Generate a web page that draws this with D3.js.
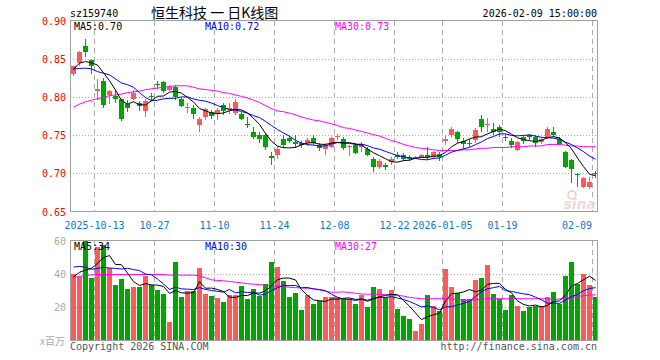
<!DOCTYPE html>
<html><head><meta charset="utf-8">
<script src="https://cdn.jsdelivr.net/npm/d3@7/dist/d3.min.js"></script>
<style>body{margin:0;background:#fff}svg{display:block}</style>
</head><body>
<script>
const dates = ["2025-09-29","2025-09-30","2025-10-09","2025-10-10","2025-10-13","2025-10-14","2025-10-15","2025-10-16","2025-10-17","2025-10-20","2025-10-21","2025-10-22","2025-10-23","2025-10-24","2025-10-27","2025-10-28","2025-10-29","2025-10-30","2025-10-31","2025-11-03","2025-11-04","2025-11-05","2025-11-06","2025-11-07","2025-11-10","2025-11-11","2025-11-12","2025-11-13","2025-11-14","2025-11-17","2025-11-18","2025-11-19","2025-11-20","2025-11-21","2025-11-24","2025-11-25","2025-11-26","2025-11-27","2025-11-28","2025-12-01","2025-12-02","2025-12-03","2025-12-04","2025-12-05","2025-12-08","2025-12-09","2025-12-10","2025-12-11","2025-12-12","2025-12-15","2025-12-16","2025-12-17","2025-12-18","2025-12-19","2025-12-22","2025-12-23","2025-12-24","2025-12-25","2025-12-26","2025-12-29","2025-12-30","2025-12-31","2026-01-05","2026-01-06","2026-01-07","2026-01-08","2026-01-09","2026-01-12","2026-01-13","2026-01-14","2026-01-15","2026-01-16","2026-01-19","2026-01-20","2026-01-21","2026-01-22","2026-01-23","2026-01-26","2026-01-27","2026-01-28","2026-01-29","2026-01-30","2026-02-02","2026-02-03","2026-02-04","2026-02-05","2026-02-06","2026-02-09"];

const open = [0.8307,0.8447,0.8675,0.8491,0.8075,0.8215,0.8031,0.8018,0.7974,0.7908,
0.7982,0.7925,0.7825,0.8022,0.8175,0.8202,0.8096,0.814,0.7978,0.7864,
0.7864,0.764,0.7746,0.7811,0.7789,0.7895,0.7833,0.7789,0.7781,0.7654,
0.7544,0.7504,0.75,0.7228,0.7241,0.7452,0.7461,0.7417,0.7395,0.7395,
0.7461,0.7373,0.7316,0.7351,0.7474,0.7452,0.7342,0.7373,0.7342,0.7325,
0.7184,0.7079,0.7105,0.7149,0.7241,0.7237,0.721,0.7202,0.721,0.7241,
0.721,0.7254,0.7421,0.75,0.7544,0.7425,0.7404,0.7439,0.771,0.7632,
0.7588,0.7605,0.7482,0.7421,0.7307,0.7474,0.75,0.7474,0.7412,0.7474,
0.7544,0.7456,0.7281,0.7175,0.6991,0.6825,0.6816,0.7009];
const high = [0.8412,0.860,0.8768,0.8504,0.8241,0.825,0.8088,0.8096,0.7982,0.7965,
0.8088,0.7956,0.7974,0.8061,0.8211,0.8211,0.8158,0.8158,0.80,0.7921,
0.7899,0.7746,0.786,0.7833,0.7855,0.793,0.7921,0.7974,0.7811,0.7737,
0.7614,0.7544,0.7526,0.7281,0.736,0.75,0.7491,0.75,0.743,0.7461,
0.75,0.7404,0.7395,0.7482,0.7522,0.7474,0.7373,0.7404,0.7417,0.7351,
0.7211,0.7184,0.714,0.7219,0.7281,0.7263,0.7241,0.7228,0.7254,0.7351,
0.7298,0.7285,0.75,0.7614,0.7553,0.7461,0.7447,0.7592,0.7763,0.7724,
0.7658,0.7632,0.7518,0.7461,0.743,0.75,0.7518,0.75,0.7474,0.7605,
0.7614,0.7482,0.729,0.7184,0.7009,0.6956,0.6947,0.7035];
const low = [0.8272,0.8412,0.8526,0.8307,0.7965,0.7855,0.7908,0.7921,0.7693,0.7811,
0.7965,0.7816,0.7746,0.7956,0.8114,0.8061,0.8079,0.7965,0.7868,0.7798,
0.7715,0.7548,0.7702,0.7711,0.7702,0.7768,0.7781,0.7768,0.7702,0.7592,
0.7447,0.7404,0.7307,0.711,0.7184,0.7329,0.7395,0.7333,0.7329,0.736,
0.7368,0.7298,0.7241,0.7329,0.7439,0.7307,0.7228,0.7254,0.7285,0.7228,
0.7022,0.7053,0.7044,0.7114,0.7184,0.7167,0.7167,0.7184,0.7202,0.7175,
0.7184,0.7167,0.7377,0.7482,0.7404,0.7316,0.7342,0.7395,0.7548,0.7548,
0.7504,0.7482,0.743,0.7329,0.7298,0.7386,0.7439,0.7351,0.7386,0.7447,
0.7474,0.7373,0.7066,0.6868,0.6825,0.6803,0.6798,0.6934];
const close = [0.8412,0.8588,0.8596,0.8404,0.811,0.7899,0.8075,0.7982,0.7719,0.7864,
0.8061,0.7886,0.7956,0.80,0.8158,0.8079,0.814,0.80,0.789,0.7877,
0.7781,0.7711,0.7842,0.7754,0.7833,0.7825,0.7855,0.7939,0.7715,0.7636,
0.7474,0.7447,0.7351,0.7202,0.7316,0.7373,0.743,0.7386,0.7368,0.7439,
0.7395,0.7329,0.7368,0.7461,0.7491,0.7338,0.736,0.7272,0.7386,0.7246,
0.7088,0.7167,0.7079,0.7184,0.7219,0.7193,0.7193,0.721,0.7241,0.721,
0.7281,0.721,0.7447,0.7588,0.7456,0.7386,0.7386,0.757,0.7605,0.7649,
0.7544,0.7544,0.7461,0.7373,0.7412,0.743,0.7474,0.7404,0.7447,0.7588,
0.75,0.7386,0.7088,0.7061,0.6974,0.6939,0.6886,0.6991];
const volume = [40,38,60.2,37.8,56.5,57.7,43.9,33.3,37.2,31.1,
32.1,32.1,39.0,33.3,30.5,28.3,11.0,47.6,26.2,29.7,
29.7,43.9,28.1,26.6,25.6,23.2,27.2,27.2,32.7,25.2,
31.1,26.6,34.0,47.6,44.3,35.8,26.2,28.7,18.3,27.2,
21.8,24.0,26.2,26.2,26.2,24.8,24.8,21.8,27.2,19.9,
32.1,30.9,26.0,30.3,18.7,15.0,13.2,5.9,10.2,27.2,
21.1,17.5,43.3,32.1,28.7,24.8,24.8,36.4,37.6,45.5,
27.9,25.0,18.1,27.2,21.1,17.5,20.1,21.1,21.1,26.0,
29.1,22.2,39.0,47.6,34.2,40.0,33.3,26.0];

// moving-average values before enough history is on the chart
const ma5Lead = [0.8368,0.8447,0.8468,0.8451];
const ma10Lead = [0.8368,0.8378,0.8381,0.8372,0.8336,0.8315,0.8293,0.8240,0.8187];
const ma30 = [0.787,0.791,0.794,0.796,0.798,0.800,0.802,0.803,0.804,0.806,
0.807,0.808,0.810,0.811,0.812,0.813,0.814,0.815,0.815,0.815,
0.813,0.811,0.810,0.809,0.808,0.806,0.805,0.803,0.801,0.799,
0.796,0.793,0.789,0.785,0.782,0.781,0.779,0.777,0.774,0.772,
0.770,0.769,0.767,0.765,0.763,0.760,0.759,0.757,0.755,0.753,
0.751,0.749,0.746,0.743,0.741,0.738,0.736,0.734,0.733,0.732,
0.731,0.730,0.730,0.730,0.730,0.731,0.731,0.732,0.733,0.733,
0.734,0.734,0.734,0.735,0.735,0.735,0.736,0.736,0.736,0.738,
0.738,0.738,0.737,0.736,0.736,0.735,0.735,0.735];
const volMa5Lead = [38.4,41.1,42.5,43.5];
const volMa10Lead = [44.3,44.7,44.1,42.9,43.5,44.1,43.7,43.5,43.1];
const volMa30 = [38.2,38.6,39.2,39.6,39.8,39.8,39.8,39.8,39.8,39.8,
39.8,39.8,39.8,39.8,39.8,39.8,39.4,39.4,39.4,39.4,
39.4,39.0,37.8,36.6,36.2,36.0,35.6,35.2,34.8,34.2,
34.0,33.7,33.3,33.1,32.9,32.5,32.1,31.9,31.7,31.5,
31.3,30.5,29.7,29.1,29.1,29.3,28.9,28.5,28.1,27.9,
27.9,27.9,27.6,27.4,27.2,26.8,26.0,25.6,25.2,25.2,
25.2,25.2,25.2,25.2,24.6,24.2,24.2,24.6,25.0,25.2,
25.2,25.2,25.2,25.2,25.2,25.2,25.2,25.2,25.2,25.2,
24.8,25.0,25.2,25.6,26.6,27.0,27.4,27.6];

const tickDates = ["2025-10-13","2025-10-27","2025-11-10","2025-11-24","2025-12-08","2025-12-22","2026-01-05","2026-01-19","2026-02-09"];
const tickLabels = ["2025-10-13","10-27","11-10","11-24","12-08","12-22","2026-01-05","01-19","02-09"];
const priceTicks = [0.90,0.85,0.80,0.75,0.70,0.65];
const priceTickLabels = ["0.90","0.85","0.80","0.75","0.70","0.65"];
const volTicks = [60,40,20];

const RED = "#ff5a5a", GREEN = "#00a600";
const MONO = "'DejaVu Sans Mono', monospace";
const CJK = "'Noto Sans CJK SC', sans-serif";

function movingAvg(arr, n, lead) {
  return arr.map((v, i) => i < n - 1 ? lead[i] : d3.mean(arr.slice(i - n + 1, i + 1)));
}
const ma5 = movingAvg(close, 5, ma5Lead);
const ma10 = movingAvg(close, 10, ma10Lead);
const vma5 = movingAvg(volume, 5, volMa5Lead);
const vma10 = movingAvg(volume, 10, volMa10Lead);

const W = 660, H = 360;
const L = 70, R = 598;
const pTop = 21, pBot = 211.5, vTop = 240.5, vBot = 340.5;

const svg = d3.select("body").append("svg").attr("width", W).attr("height", H);
const x = d3.scaleBand().domain(dates).range([L, R]);
const y = d3.scaleLinear().domain([0.65, 0.90]).range([pBot, pTop]);
const yv = d3.scaleLinear().domain([0, 60]).range([vBot, vTop + 0.5]);
const cx = i => x(dates[i]) + 3.5;

// header
svg.append("text").attr("x", 70).attr("y", 17).attr("font-family", MONO).attr("font-size", 10).attr("fill", "#000").text("sz159740");
svg.append("text").attr("x", 151).attr("y", 18).attr("font-family", CJK).attr("font-size", 14).attr("fill", "#000").text("恒生科技 一 日K线图");
svg.append("text").attr("x", 597).attr("y", 17).attr("text-anchor", "end").attr("font-family", MONO).attr("font-size", 10).attr("fill", "#000").text("2026-02-09 15:00:00");

function panel(top, bot, hTicks, yScale) {
  const g = svg.append("g").attr("shape-rendering", "crispEdges");
  g.selectAll("line.h").data(hTicks).join("line")
    .attr("x1", L).attr("x2", R).attr("y1", d => Math.round(yScale(d)) + 0.5).attr("y2", d => Math.round(yScale(d)) + 0.5)
    .attr("stroke", "#a8a8a8").attr("stroke-dasharray", "1,2");
  g.selectAll("line.v").data(tickDates).join("line")
    .attr("x1", d => x(d) + 0.5).attr("x2", d => x(d) + 0.5).attr("y1", top).attr("y2", bot)
    .attr("stroke", "#aaa").attr("stroke-dasharray", "5,4");
  return g;
}
panel(pTop, pBot, [0.85, 0.80, 0.75, 0.70], y);
panel(vTop, vBot, [40, 20], yv);

// price labels
svg.selectAll("text.pl").data(priceTicks).join("text")
  .attr("x", 66).attr("y", d => y(d) + 4).attr("text-anchor", "end")
  .attr("font-family", MONO).attr("font-size", 10).attr("fill", "#ff0000")
  .text((d, i) => priceTickLabels[i]);
svg.selectAll("text.vl").data(volTicks).join("text")
  .attr("x", 66).attr("y", d => yv(d) + 4).attr("text-anchor", "end")
  .attr("font-family", MONO).attr("font-size", 10).attr("fill", "#aaa")
  .text(d => d);
svg.append("text").attr("x", 65).attr("y", 345).attr("text-anchor", "end").attr("font-family", CJK).attr("font-size", 10).attr("fill", "#aaa").text("x百万");

// date labels
svg.selectAll("text.dl").data(tickDates).join("text")
  .attr("x", (d, i) => i === tickDates.length - 1 ? x(d) : x(d) + 0.5)
  .attr("y", 229)
  .attr("text-anchor", (d, i) => i === tickDates.length - 1 ? "end" : "middle")
  .attr("font-family", MONO).attr("font-size", 10).attr("fill", "#0a78d2")
  .text((d, i) => tickLabels[i]);

// watermark
svg.append("text").attr("x", 596).attr("y", 209).attr("text-anchor", "end")
  .attr("font-family", "'DejaVu Sans', sans-serif").attr("font-weight", "bold").attr("font-style", "italic")
  .attr("font-size", 14).attr("fill", "#eadcdc").text("sina");
svg.append("circle").attr("cx", 572).attr("cy", 195).attr("r", 4).attr("fill", "none").attr("stroke", "#f0c8c8").attr("stroke-width", 1.5);

// candles
const idx = d3.range(dates.length);
const cg = svg.append("g").attr("shape-rendering", "crispEdges");
const col = i => close[i] >= open[i] ? RED : GREEN;
cg.selectAll("line.w").data(idx).join("line")
  .attr("x1", i => cx(i)).attr("x2", i => cx(i))
  .attr("y1", i => y(high[i])).attr("y2", i => y(low[i]))
  .attr("stroke", col);
cg.selectAll("rect.b").data(idx).join("rect")
  .attr("x", i => x(dates[i]) + 1).attr("width", 5)
  .attr("y", i => y(Math.max(open[i], close[i])))
  .attr("height", i => Math.max(1, Math.abs(y(open[i]) - y(close[i]))))
  .attr("fill", col);

// volume bars
cg.selectAll("rect.v").data(idx).join("rect")
  .attr("x", i => x(dates[i]) + 1).attr("width", 5)
  .attr("y", i => yv(volume[i])).attr("height", i => vBot - yv(volume[i]))
  .attr("fill", col);

// MA lines
function drawLine(vals, scale, color) {
  svg.append("path").datum(vals)
    .attr("d", d3.line().x((d, i) => cx(i)).y(d => scale(d)))
    .attr("fill", "none").attr("stroke", color).attr("stroke-width", 1);
}
drawLine(ma30, y, "#ff00ff");
drawLine(ma10, y, "#0000ff");
drawLine(ma5, y, "#000");
drawLine(volMa30, yv, "#ff00ff");
drawLine(vma10, yv, "#0000ff");
drawLine(vma5, yv, "#000");

// frames
const fg = svg.append("g").attr("shape-rendering", "crispEdges").attr("fill", "none").attr("stroke", "#a0a0a0");
fg.append("rect").attr("x", L + 0.5).attr("y", pTop - 0.5).attr("width", R - L - 1).attr("height", pBot - pTop + 0.5);
fg.append("rect").attr("x", L + 0.5).attr("y", vTop).attr("width", R - L - 1).attr("height", vBot - vTop);

// MA legends
const legend = (xp, yp, t, c) => svg.append("text").attr("x", xp).attr("y", yp).attr("font-family", MONO).attr("font-size", 10).attr("fill", c).text(t);
legend(74, 30, "MA5:0.70", "#000");
legend(205, 30, "MA10:0.72", "#0000ff");
legend(335, 30, "MA30:0.73", "#ff00ff");
legend(74, 250, "MA5:34", "#000");
legend(205, 250, "MA10:30", "#0000ff");
legend(335, 250, "MA30:27", "#ff00ff");

// footer
svg.append("text").attr("x", 70).attr("y", 350).attr("font-family", MONO).attr("font-size", 10).attr("fill", "#555").text("Copyright 2026 SINA.COM");
svg.append("text").attr("x", 597).attr("y", 350).attr("text-anchor", "end").attr("font-family", MONO).attr("font-size", 10).attr("fill", "#555").text("http://finance.sina.com.cn");
</script>
</body></html>
